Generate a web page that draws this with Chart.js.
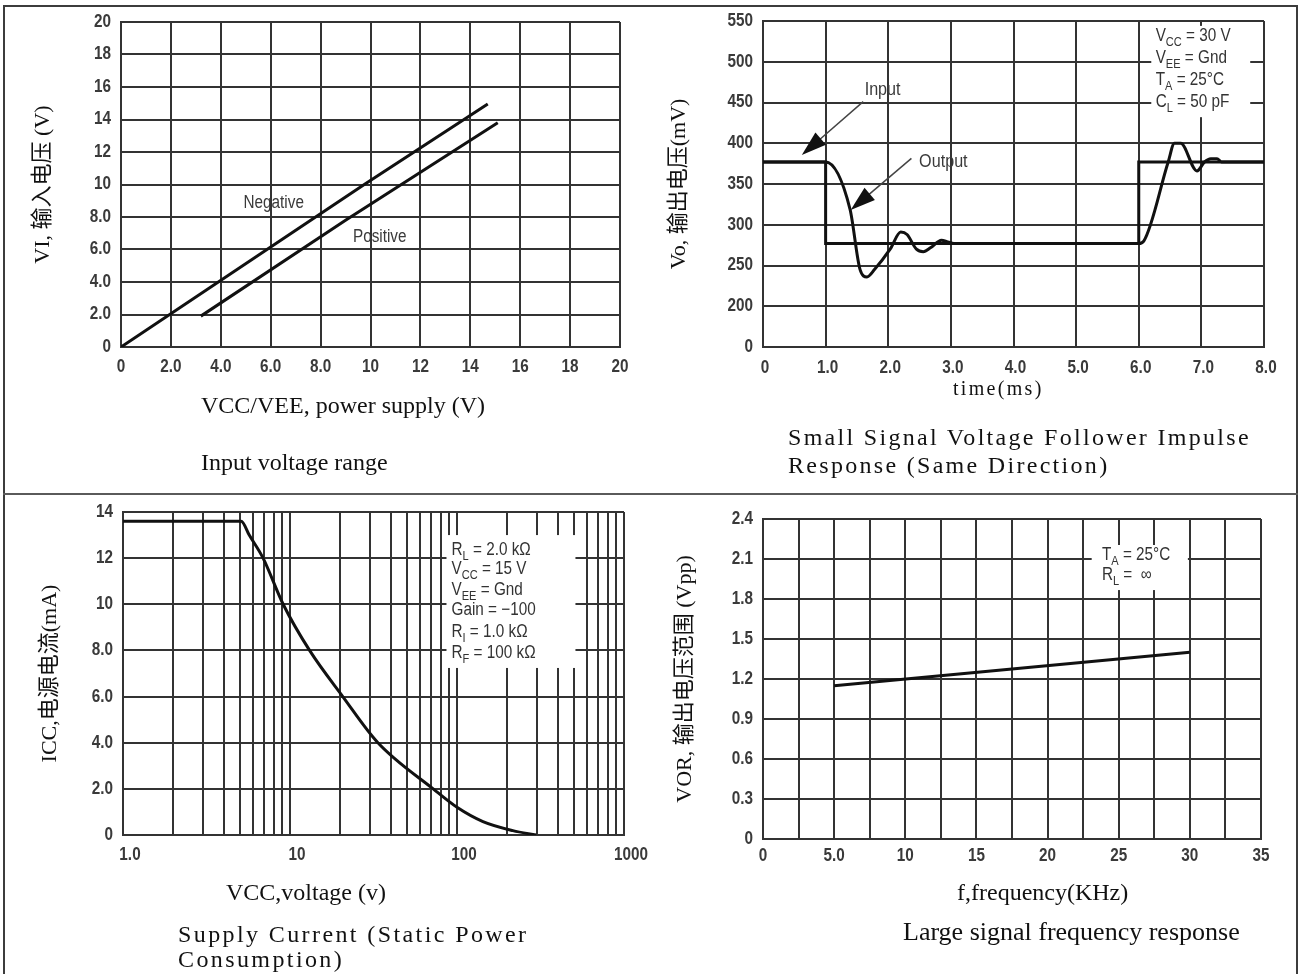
<!DOCTYPE html>
<html>
<head>
<meta charset="utf-8">
<script src="https://cdn.jsdelivr.net/npm/chart.js@4.4.0/dist/chart.umd.min.js"></script>
<style>
  body { margin: 0; background: #fff; }
  #page { position: relative; width: 1301px; height: 974px; overflow: hidden; background: #fff; }
  canvas { position: absolute; }
  .frame { position: absolute; left: 3px; top: 5px; width: 1291px; height: 990px; border: 2px solid #3c3c3c; }
  .divider { position: absolute; left: 3px; top: 493px; width: 1295px; height: 2px; background: #5a5a5a; }
  .txt { position: absolute; white-space: nowrap; font-family: 'Liberation Serif', 'Times New Roman', serif; color: #111; line-height: 1; }
</style>
</head>
<body>
<div id="page">
  <div class="frame"></div>
  <div class="divider"></div>

  <canvas id="c1" width="650" height="493" style="left:0;top:0"></canvas>
  <canvas id="c2" width="651" height="493" style="left:650px;top:0"></canvas>
  <canvas id="c3" width="650" height="481" style="left:0;top:493px"></canvas>
  <canvas id="c4" width="651" height="481" style="left:650px;top:493px"></canvas>

  <div class="txt" style="left:201px;top:393px;font-size:24px">VCC/VEE, power supply (V)</div>
  <div class="txt" style="left:201px;top:450px;font-size:24px">Input voltage range</div>

  <div class="txt" style="left:953px;top:378px;font-size:20px;letter-spacing:2.3px">time(ms)</div>
  <div class="txt" style="left:788px;top:425px;font-size:24px;letter-spacing:2.3px">Small Signal Voltage Follower Impulse</div>
  <div class="txt" style="left:788px;top:453px;font-size:24px;letter-spacing:2.3px">Response (Same Direction)</div>

  <div class="txt" style="left:226px;top:880px;font-size:24px">VCC,voltage (v)</div>
  <div class="txt" style="left:178px;top:922px;font-size:24px;letter-spacing:2.4px">Supply Current (Static Power</div>
  <div class="txt" style="left:178px;top:947px;font-size:24px;letter-spacing:2.4px">Consumption)</div>

  <div class="txt" style="left:957px;top:880px;font-size:24px">f,frequency(KHz)</div>
  <div class="txt" style="left:903px;top:919px;font-size:26px">Large signal frequency response</div>
</div>

<script>
// ---- Input voltage range ----
const negSupply = [0, 5.85, 9.75, 14.7];
const negInput  = [0, 6.0, 10.0, 14.95];
const posSupply = [3.2, 9.0, 15.1];
const posInput  = [1.9, 7.8, 13.8];

// ---- Small signal voltage follower impulse response ----
const inTime  = [0, 1.0, 1.0, 6.0, 6.0, 8.0];
const inVolt  = [377, 377, 277, 277, 377, 377];
const outTime = [0, 1.0, 1.39, 1.55, 1.66, 1.78, 2.03, 2.2, 2.3, 2.45, 2.56, 2.68, 2.85, 2.95, 3.05, 6.0, 6.08, 6.47, 6.57, 6.67, 6.93, 7.05, 7.15, 7.25, 7.32, 8.0];
const outVolt = [377, 377, 319, 245, 236, 245, 270, 291, 288, 270, 267, 272, 281, 279, 277, 277, 280, 377, 400, 400, 366, 377, 381, 381, 377, 377];

// ---- Supply current ----
const vccVolt  = [1, 5.1, 5.7, 6.9, 9.1, 13.1, 20.7, 33.6, 72, 100, 143, 216, 298];
const iccCurr  = [13.6, 13.6, 13.0, 12.0, 10.0, 8.0, 6.0, 4.0, 2.0, 1.2, 0.58, 0.19, 0.0];
const logGrid  = [1,2,3,4,5,6,7,8,9,10,20,30,40,50,60,70,80,90,100,200,300,400,500,600,700,800,900,1000];
const logLabels = { 1: '1.0', 10: '10', 100: '100', 1000: '1000' };

// ---- Large signal frequency response ----
const freqKHz = [5, 30];
const vorVpp  = [1.15, 1.40];

const GRID = '#333';
const SANS = "'Liberation Sans', Arial, sans-serif";
const SQUEEZE = 0.85;   // no narrow face installed, so squeeze the sans horizontally
const TITLE_FONT = { family: "'Liberation Serif', 'Noto Sans CJK SC', serif", size: 22 };

const fmtDec = v => v === 0 ? '0' : (v < 10 ? v.toFixed(1) : String(v));

function pts(xs, ys) {
  return xs.map((x, i) => ({ x: x, y: ys[i] }));
}

function axis(opts) {
  return Object.assign({
    grid: { color: GRID, lineWidth: 2, drawTicks: false },
    border: { color: GRID, width: 2 }
  }, opts, {
    ticks: Object.assign({ display: false, autoSkip: false, maxRotation: 0 }, opts.ticks || {})
  });
}

function yTitle(text, pad) {
  return { display: true, text: text, color: '#111', font: TITLE_FONT, padding: { top: pad, bottom: 0 } };
}

function lineSet(data, extra) {
  return Object.assign({ data: data, borderColor: '#111', borderWidth: 3, pointRadius: 0, fill: false, tension: 0 }, extra || {});
}

function baseOptions(pad) {
  return {
    responsive: false,
    animation: false,
    layout: { padding: pad },
    plugins: { legend: { display: false }, tooltip: { enabled: false } }
  };
}

function narrowText(ctx, text, x, y, align, size, weight) {
  ctx.save();
  ctx.font = (weight || 'normal') + ' ' + size + 'px ' + SANS;
  ctx.translate(x, y);
  ctx.scale(SQUEEZE, 1);
  ctx.textAlign = align;
  ctx.fillText(text, 0, 0);
  const w = ctx.measureText(text).width * SQUEEZE;
  ctx.restore();
  return w;
}

// tick labels in a condensed look, placed from the chart's own scales
function tickPlugin(xPad, xOff) {
  return {
    id: 'narrowTicks',
    afterDraw(chart) {
      const ctx = chart.ctx, xs = chart.scales.x, ys = chart.scales.y, area = chart.chartArea;
      ctx.save();
      ctx.fillStyle = '#3a3a3a';
      ctx.textBaseline = 'middle';
      xs.ticks.forEach(t => {
        if (t.label) narrowText(ctx, t.label, xs.getPixelForValue(t.value) + xOff, area.bottom + xPad, 'center', 18, 'bold');
      });
      ys.ticks.forEach(t => {
        if (t.label) narrowText(ctx, t.label, area.left - 10, ys.getPixelForValue(t.value), 'right', 18, 'bold');
      });
      ctx.restore();
    }
  };
}

function richText(ctx, x, y, parts, size) {
  let cx = x;
  parts.forEach(p => {
    const sub = p[1];
    cx += narrowText(ctx, p[0], cx, sub ? y + size * 0.28 : y, 'left', sub ? Math.round(size * 0.72) : size);
  });
}

function arrow(ctx, x1, y1, x2, y2) {
  const a = Math.atan2(y2 - y1, x2 - x1);
  const c = Math.cos(a), s = Math.sin(a);
  ctx.beginPath();
  ctx.moveTo(x1, y1);
  ctx.lineTo(x2 - 18 * c, y2 - 18 * s);
  ctx.stroke();
  ctx.beginPath();
  ctx.moveTo(x2, y2);
  ctx.lineTo(x2 - 25 * c + 8 * s, y2 - 25 * s - 8 * c);
  ctx.lineTo(x2 - 25 * c - 8 * s, y2 - 25 * s + 8 * c);
  ctx.closePath();
  ctx.fill();
}

// notes drawn behind the curves: a white box hiding the grid, then text lines
function notesPlugin(box, lines, size) {
  return {
    id: 'notes',
    beforeDatasetsDraw(chart) {
      const ctx = chart.ctx, xs = chart.scales.x, ys = chart.scales.y;
      ctx.save();
      const l = xs.getPixelForValue(box[0]), r = xs.getPixelForValue(box[1]);
      const t = ys.getPixelForValue(box[2]), b = ys.getPixelForValue(box[3]);
      ctx.fillStyle = '#fff';
      ctx.fillRect(l, t, r - l, b - t);
      ctx.fillStyle = '#333';
      ctx.textBaseline = 'alphabetic';
      lines.forEach(ln => {
        richText(ctx, xs.getPixelForValue(ln.x), ys.getPixelForValue(ln.y), ln.parts, size);
      });
      ctx.restore();
    }
  };
}

// ---------- chart 1 ----------
const c1Labels = [
  { text: 'Negative', x: 6.12, y: 8.87 },
  { text: 'Positive', x: 10.37, y: 6.79 }
];
new Chart(document.getElementById('c1'), {
  type: 'line',
  data: { datasets: [lineSet(pts(negSupply, negInput)), lineSet(pts(posSupply, posInput))] },
  options: Object.assign(baseOptions({ top: 22, right: 30, left: 0, bottom: 0 }), {
    scales: {
      x: axis({ type: 'linear', min: 0, max: 20, afterFit: s => { s.height = 146; },
        ticks: { stepSize: 2, callback: fmtDec } }),
      y: axis({ type: 'linear', min: 0, max: 20, afterFit: s => { s.width = 121; },
        title: yTitle('VI, 输入电压 (V)', 30),
        ticks: { stepSize: 2, callback: fmtDec } })
    }
  }),
  plugins: [tickPlugin(20, 0), {
    id: 'c1labels',
    afterDatasetsDraw(chart) {
      const ctx = chart.ctx;
      ctx.save();
      ctx.fillStyle = '#3a3a3a';
      ctx.textBaseline = 'middle';
      c1Labels.forEach(l => narrowText(ctx, l.text, chart.scales.x.getPixelForValue(l.x), chart.scales.y.getPixelForValue(l.y), 'center', 18));
      ctx.restore();
    }
  }]
});

// ---------- chart 2 ----------
const c2Notes = [
  { x: 6.27, y: 526, parts: [['V'], ['CC', 1], [' = 30 V']] },
  { x: 6.27, y: 499, parts: [['V'], ['EE', 1], [' = Gnd']] },
  { x: 6.27, y: 472, parts: [['T'], ['A', 1], [' = 25°C']] },
  { x: 6.27, y: 445, parts: [['C'], ['L', 1], [' = 50 pF']] }
];
const c2Arrows = [
  { text: 'Input', tx: 1.91, ty: 465.6, from: [1.60, 451], to: [0.62, 385.5] },
  { text: 'Output', tx: 2.88, ty: 377, from: [2.37, 381.5], to: [1.40, 318] }
];
new Chart(document.getElementById('c2'), {
  type: 'line',
  data: { datasets: [
    lineSet(pts(inTime, inVolt)),
    lineSet(pts(outTime, outVolt), { cubicInterpolationMode: 'monotone' })
  ] },
  options: Object.assign(baseOptions({ top: 21, right: 37, left: 0, bottom: 0 }), {
    scales: {
      x: axis({ type: 'linear', min: 0, max: 8, afterFit: s => { s.height = 146; },
        ticks: { stepSize: 1, callback: fmtDec } }),
      y: axis({ type: 'linear', min: 150, max: 550, afterFit: s => { s.width = 113; },
        title: yTitle('Vo, 输出电压(mV)', 16),
        ticks: { stepSize: 50, callback: v => v === 150 ? '0' : String(v) } })
    }
  }),
  plugins: [tickPlugin(21, 2), notesPlugin([6.2, 7.78, 544, 432], c2Notes, 18), {
    id: 'arrows',
    afterDatasetsDraw(chart) {
      const ctx = chart.ctx, xs = chart.scales.x, ys = chart.scales.y;
      ctx.save();
      ctx.lineWidth = 1.5;
      c2Arrows.forEach(a => {
        ctx.strokeStyle = '#444';
        ctx.fillStyle = '#111';
        arrow(ctx, xs.getPixelForValue(a.from[0]), ys.getPixelForValue(a.from[1]),
          xs.getPixelForValue(a.to[0]), ys.getPixelForValue(a.to[1]));
        ctx.fillStyle = '#3a3a3a';
        ctx.textBaseline = 'middle';
        narrowText(ctx, a.text, xs.getPixelForValue(a.tx), ys.getPixelForValue(a.ty), 'center', 19);
      });
      ctx.restore();
    }
  }]
});

// ---------- chart 3 ----------
const c3Notes = [
  { x: 92.7, y: 12.14, parts: [['R'], ['L', 1], [' = 2.0 kΩ']] },
  { x: 92.7, y: 11.31, parts: [['V'], ['CC', 1], [' = 15 V']] },
  { x: 92.7, y: 10.40, parts: [['V'], ['EE', 1], [' = Gnd']] },
  { x: 92.7, y: 9.53, parts: [['Gain = −100']] },
  { x: 92.7, y: 8.58, parts: [['R'], ['I', 1], [' = 1.0 kΩ']] },
  { x: 92.7, y: 7.67, parts: [['R'], ['F', 1], [' = 100 kΩ']] }
];
new Chart(document.getElementById('c3'), {
  type: 'line',
  data: { datasets: [lineSet(pts(vccVolt, iccCurr), { cubicInterpolationMode: 'monotone' })] },
  options: Object.assign(baseOptions({ top: 19, right: 26, left: 0, bottom: 0 }), {
    scales: {
      x: axis({ type: 'logarithmic', min: 1, max: 1000, afterFit: s => { s.height = 139; },
        afterBuildTicks: s => { s.ticks = logGrid.map(v => ({ value: v })); },
        ticks: { callback: v => logLabels[v] || '' } }),
      y: axis({ type: 'linear', min: 0, max: 14, afterFit: s => { s.width = 123; },
        title: yTitle('ICC,电源电流(mA)', 37),
        ticks: { stepSize: 2, callback: fmtDec } })
    }
  }),
  plugins: [tickPlugin(20, 7), notesPlugin([86.5, 512, 13.0, 7.24], c3Notes, 18)]
});

// ---------- chart 4 ----------
const c4Notes = [
  { x: 23.82, y: 2.092, parts: [['T'], ['A', 1], [' = 25°C']] },
  { x: 23.82, y: 1.942, parts: [['R'], ['L', 1], [' =  ∞']] }
];
new Chart(document.getElementById('c4'), {
  type: 'line',
  data: { datasets: [lineSet(pts(freqKHz, vorVpp))] },
  options: Object.assign(baseOptions({ top: 26, right: 40, left: 0, bottom: 0 }), {
    scales: {
      x: axis({ type: 'linear', min: 0, max: 35, afterFit: s => { s.height = 135; },
        ticks: { stepSize: 2.5, callback: v => (v % 5 === 0 ? fmtDec(v) : '') } }),
      y: axis({ type: 'linear', min: 0, max: 2.4, afterFit: s => { s.width = 113; },
        title: yTitle('VOR, 输出电压范围 (Vpp)', 22),
        ticks: { stepSize: 0.3, callback: v => v === 0 ? '0' : v.toFixed(1) } })
    }
  }),
  plugins: [tickPlugin(17, 0), notesPlugin([23.1, 29.86, 2.205, 1.867], c4Notes, 18)]
});
</script>
</body>
</html>
